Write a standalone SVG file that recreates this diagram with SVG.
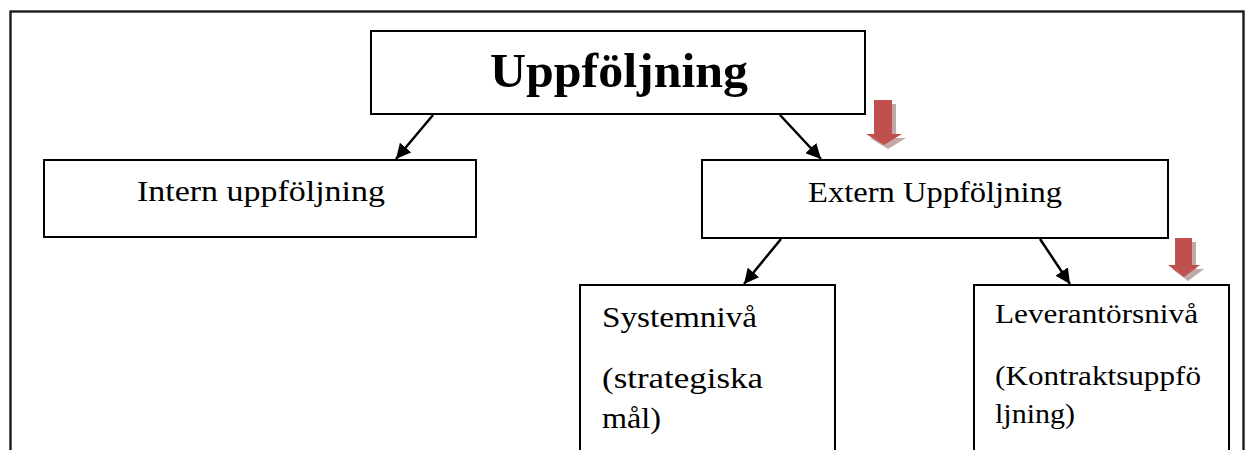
<svg xmlns="http://www.w3.org/2000/svg" width="1248" height="450" viewBox="0 0 1248 450">
  <style>
    .box { fill: #ffffff; stroke: #000000; stroke-width: 2; }
    .frame { fill: none; stroke: #1a1a1a; stroke-width: 2.4; }
    .txt { font-family: "Liberation Serif", "DejaVu Serif", serif; fill: #000000; }
    .title { font-size: 49px; font-weight: bold; }
    .lbl { font-size: 30px; }
    .lbl2 { font-size: 27px; }
    .conn { stroke: #000000; stroke-width: 2.5; fill: none; marker-end: url(#ah); }
    .red { fill: #c0504d; }
    .shadow { fill: #b49a9a; opacity: 0.85; }
  </style>
  <defs>
    <marker id="ah" markerUnits="userSpaceOnUse" markerWidth="17" markerHeight="15" refX="15" refY="7.5" orient="auto">
      <path d="M0,0 L15,7.5 L0,15 z" fill="#000000"/>
    </marker>
  </defs>

  <rect id="background" x="0" y="0" width="1248" height="450" fill="#ffffff"/>
  <rect class="frame" x="10.5" y="11.5" width="1233" height="460"/>

  <g id="node-uppfoljning">
    <rect class="box" x="371" y="31" width="494" height="83"/>
    <text class="txt title" x="490" y="87" textLength="258" lengthAdjust="spacingAndGlyphs">Uppföljning</text>
  </g>

  <g id="node-intern">
    <rect class="box" x="44" y="160" width="432" height="77"/>
    <text class="txt lbl" x="137" y="201" textLength="248" lengthAdjust="spacingAndGlyphs">Intern uppföljning</text>
  </g>

  <g id="node-extern">
    <rect class="box" x="702" y="160" width="466" height="78"/>
    <text class="txt lbl" x="808" y="202" textLength="254" lengthAdjust="spacingAndGlyphs">Extern Uppföljning</text>
  </g>

  <g id="node-systemniva">
    <rect class="box" x="580" y="285" width="255" height="190"/>
    <text class="txt lbl" x="602" y="327" textLength="155" lengthAdjust="spacingAndGlyphs">Systemnivå</text>
    <text class="txt lbl" x="602" y="388" textLength="161" lengthAdjust="spacingAndGlyphs">(strategiska</text>
    <text class="txt lbl" x="602" y="428" textLength="59" lengthAdjust="spacingAndGlyphs">mål)</text>
  </g>

  <g id="node-leverantorsniva">
    <rect class="box" x="974" y="285" width="255" height="190"/>
    <text class="txt lbl2" x="995" y="323" textLength="203" lengthAdjust="spacingAndGlyphs">Leverantörsnivå</text>
    <text class="txt lbl2" x="995" y="385" textLength="206" lengthAdjust="spacingAndGlyphs">(Kontraktsuppfö</text>
    <text class="txt lbl2" x="995" y="423" textLength="80" lengthAdjust="spacingAndGlyphs">ljning)</text>
  </g>

  <g id="connectors">
    <line class="conn" x1="433" y1="115" x2="396" y2="159"/>
    <line class="conn" x1="780" y1="115" x2="821" y2="159"/>
    <line class="conn" x1="781" y1="239" x2="744" y2="284"/>
    <line class="conn" x1="1040" y1="239" x2="1070" y2="284"/>
  </g>

  <g id="red-arrows">
    <polygon class="shadow" points="878,104 896,104 896,138 906,138 888,149 870,138 878,138"/>
    <polygon class="red" points="874,100 892,100 892,134 902,134 884,145 866,134 874,134"/>
    <polygon class="shadow" points="1179,242 1196,242 1196,269 1204,269 1188,281 1172,269 1179,269"/>
    <polygon class="red" points="1175,238 1192,238 1192,265 1200,265 1184,277 1168,265 1175,265"/>
  </g>
</svg>
